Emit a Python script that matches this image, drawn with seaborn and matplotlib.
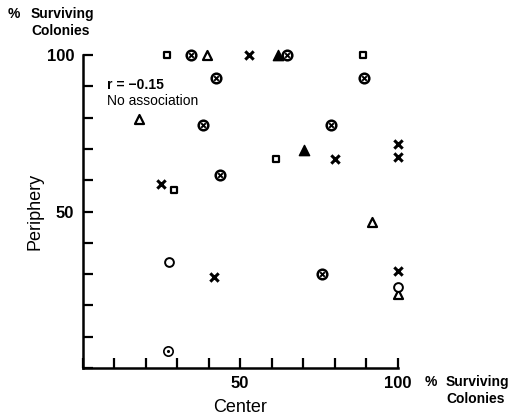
import numpy as np
import matplotlib
matplotlib.use("Agg")
import matplotlib.pyplot as plt
import seaborn as sns

# data (% surviving colonies: center vs periphery)
square_x = [26.7, 88.9, 61.3, 28.9]
square_y = [100, 100, 66.9, 57.0]

otimes_x = [34.6, 64.8, 42.5, 89.5, 38.1, 79.0, 43.8, 75.9]
otimes_y = [100, 100, 92.7, 92.7, 77.7, 77.7, 61.8, 29.9]

open_tri_x = [39.4, 17.8, 92.0, 100]
open_tri_y = [100, 79.6, 46.5, 23.6]

filled_tri_x = [62.0, 70.2]
filled_tri_y = [100, 69.7]

cross_x = [52.7, 100, 100, 80.0, 24.8, 41.6, 100]
cross_y = [100, 71.7, 67.5, 66.9, 58.9, 29.0, 30.9]

circle_x = [27.6, 100]
circle_y = [34.0, 25.8]

odot_x = [27.3]
odot_y = [5.4]

tick_vals = [0, 10, 20, 30, 40, 50, 60, 70, 80, 90, 100]
tick_labels = ["", "", "", "", "", "50", "", "", "", "", "100"]

sns.set_style("white")
plt.rcParams['font.family'] = ['Liberation Sans', 'DejaVu Sans']
plt.rcParams['text.color'] = 'black'

W, H = 513, 418
fig = plt.figure(figsize=(W / 100, H / 100), dpi=100)
ax = fig.add_axes([82.5 / W, (H - 368) / H, 315 / W, 313 / H])

common = dict(ax=ax, clip_on=False)
# open squares
sns.scatterplot(x=square_x, y=square_y, marker='s', s=22, facecolor='white',
                edgecolor='black', linewidth=1.6, zorder=3, **common)
# circled crosses
sns.scatterplot(x=otimes_x, y=otimes_y, marker='o', s=48, facecolor='white',
                edgecolor='black', linewidth=1.8, zorder=3, **common)
sns.scatterplot(x=otimes_x, y=otimes_y, marker='x', s=11, color='black',
                linewidth=1.4, zorder=4, **common)
# open triangles
sns.scatterplot(x=open_tri_x, y=open_tri_y, marker='^', s=42, facecolor='white',
                edgecolor='black', linewidth=1.6, zorder=3, **common)
# filled triangles
sns.scatterplot(x=filled_tri_x, y=filled_tri_y, marker='^', s=55, color='black',
                edgecolor='black', linewidth=1.0, zorder=5, **common)
# crosses
sns.scatterplot(x=cross_x, y=cross_y, marker='x', s=36, color='black',
                linewidth=2.2, zorder=3, **common)
# open circles
sns.scatterplot(x=circle_x, y=circle_y, marker='o', s=40, facecolor='white',
                edgecolor='black', linewidth=1.4, zorder=3, **common)
# dotted circle
sns.scatterplot(x=odot_x, y=odot_y, marker='o', s=45, facecolor='white',
                edgecolor='black', linewidth=1.2, zorder=3, **common)
sns.scatterplot(x=odot_x, y=odot_y, marker='o', s=5, color='black',
                linewidth=0, zorder=4, **common)

ax.set_xlim(0, 100)
ax.set_ylim(0, 100)
ax.set_xticks(tick_vals)
ax.set_xticklabels(tick_labels)
ax.set_yticks(tick_vals)
ax.set_yticklabels(tick_labels)
ax.tick_params(bottom=True, left=True, direction='in', length=7, width=1.6,
               pad=6, labelsize=12, colors='black')
for lab in ax.get_xticklabels() + ax.get_yticklabels():
    lab.set_fontweight('bold')
for side in ['top', 'right']:
    ax.spines[side].set_visible(False)
for side in ['left', 'bottom']:
    ax.spines[side].set_linewidth(1.8)
    ax.spines[side].set_color('black')
ax.patch.set_alpha(0)

ax.text(7.8, 90.5, "r = \u22120.15", fontsize=10, fontweight='bold',
        va='center', ha='left')
ax.text(7.8, 85.2, "No association", fontsize=10, va='center', ha='left')

# axis titles
fig.text(35 / W, 1 - 211 / H, "Periphery", rotation=90, fontsize=13,
         ha='center', va='center')
fig.text(240 / W, 1 - 408 / H, "Center", fontsize=13, ha='center', va='center')

# unit labels
fig.text(8 / W, 1 - 14 / H, "%", fontsize=10, fontweight='bold', ha='left', va='center')
fig.text(31 / W, 1 - 14 / H, "Surviving", fontsize=10, fontweight='bold', ha='left', va='center')
fig.text(31 / W, 1 - 31 / H, "Colonies", fontsize=10, fontweight='bold', ha='left', va='center')
fig.text(425 / W, 1 - 382 / H, "%", fontsize=10, fontweight='bold', ha='left', va='center')
fig.text(446 / W, 1 - 382 / H, "Surviving", fontsize=10, fontweight='bold', ha='left', va='center')
fig.text(446 / W, 1 - 399 / H, "Colonies", fontsize=10, fontweight='bold', ha='left', va='center')

fig.savefig("out.png", dpi=100)
